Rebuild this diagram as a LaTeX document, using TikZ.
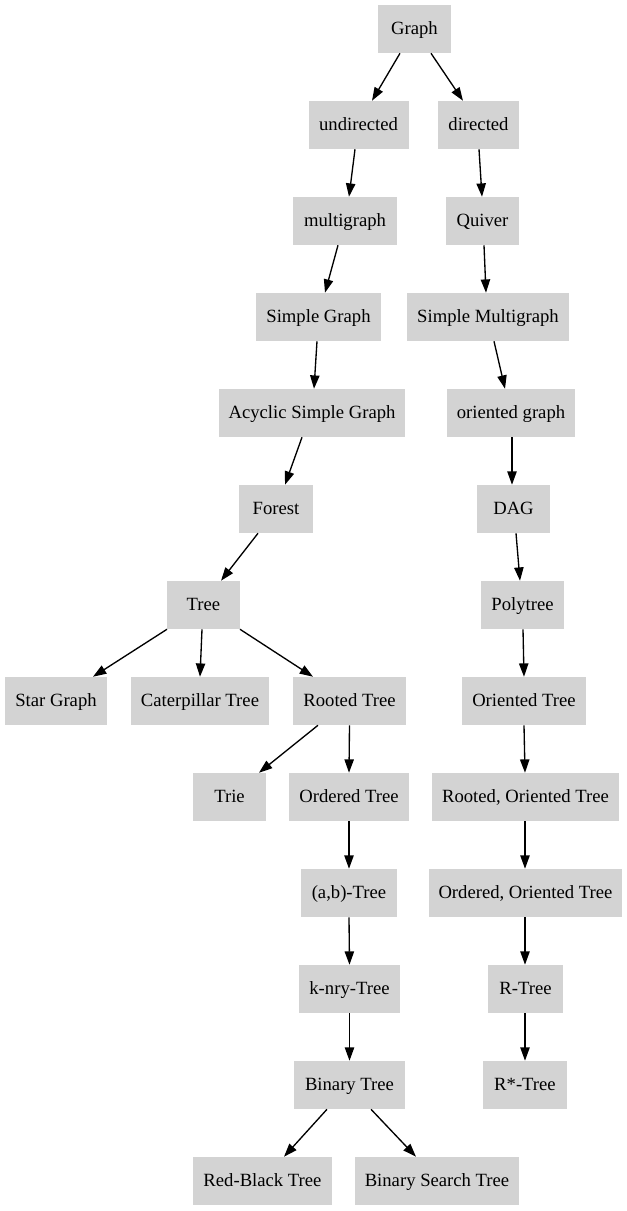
\documentclass[tikz,border=0pt]{standalone}
\usepackage{fontspec}
\setmainfont{Liberation Serif}
\usetikzlibrary{calc,arrows.meta}
\definecolor{boxgray}{HTML}{D3D3D3}
\begin{document}
\begin{tikzpicture}[x=0.75pt,y=-0.75pt,
  box/.style={fill=boxgray,draw=none,minimum height=36pt,inner sep=0pt,text height=11pt,text depth=2.5pt,font=\fontsize{14pt}{16pt}\selectfont},
  edge/.style={line width=1pt,-{Triangle[length=10pt,width=7pt]}}]
\useasboundingbox (0,0) rectangle (627,1211);
% row 0
\node[box,minimum width=54.75pt] (graph) at (414.5,29) {Graph};
% row 1
\node[box,minimum width=75pt] (undir) at (358.5,125) {undirected};
\node[box,minimum width=60.75pt] (dir) at (478.5,125) {directed};
% row 2
\node[box,minimum width=78pt] (multi) at (345,221) {multigraph};
\node[box,minimum width=54.75pt] (quiver) at (482.5,221) {Quiver};
% row 3
\node[box,minimum width=93.75pt] (sg) at (318.5,317) {Simple Graph};
\node[box,minimum width=121.5pt] (sm) at (488,317) {Simple Multigraph};
% row 4
\node[box,minimum width=139.5pt] (asg) at (312,413) {Acyclic Simple Graph};
\node[box,minimum width=96pt] (og) at (511,413) {oriented graph};
% row 5
\node[box,minimum width=55.5pt] (forest) at (276,509) {Forest};
\node[box,minimum width=54.75pt] (dag) at (513.5,509) {DAG};
% row 6
\node[box,minimum width=54.75pt] (tree) at (203.5,605) {Tree};
\node[box,minimum width=62.25pt] (poly) at (522.5,605) {Polytree};
% row 7
\node[box,minimum width=76.5pt] (star) at (56,701) {Star Graph};
\node[box,minimum width=103.5pt] (cat) at (200,701) {Caterpillar Tree};
\node[box,minimum width=84.75pt] (rooted) at (349.5,701) {Rooted Tree};
\node[box,minimum width=93pt] (ot) at (524,701) {Oriented Tree};
% row 8
\node[box,minimum width=54.75pt] (trie) at (229.5,797) {Trie};
\node[box,minimum width=90pt] (ordered) at (349,797) {Ordered Tree};
\node[box,minimum width=140.25pt] (rot) at (525.5,797) {Rooted, Oriented Tree};
% row 9
\node[box,minimum width=72pt] (ab) at (349,893) {(a,b)-Tree};
\node[box,minimum width=144.75pt] (oot) at (525.5,893) {Ordered, Oriented Tree};
% row 10
\node[box,minimum width=75.75pt] (knry) at (349.5,989) {k-nry-Tree};
\node[box,minimum width=56.25pt] (rtree) at (525.5,989) {R-Tree};
% row 11
\node[box,minimum width=83.25pt] (binary) at (349.5,1085) {Binary Tree};
\node[box,minimum width=63pt] (rstar) at (525,1085) {R*-Tree};
% row 12
\node[box,minimum width=104.25pt] (rb) at (262.5,1181) {Red-Black Tree};
\node[box,minimum width=123pt] (bst) at (437,1181) {Binary Search Tree};
% edges
\draw[edge] ($(graph.south)+(-14.5,0)$) -- ($(undir.north)+(13.5,0)$);
\draw[edge] ($(graph.south)+(16.5,0)$) -- ($(dir.north)+(-15.5,0)$);
\draw[edge] ($(undir.south)+(-3.5,0)$) -- ($(multi.north)+(4,0)$);
\draw[edge] ($(dir.south)+(0.5,0)$) -- ($(quiver.north)+(-0.5,0)$);
\draw[edge] ($(multi.south)+(-7,0)$) -- ($(sg.north)+(6.5,0)$);
\draw[edge] ($(quiver.south)+(1.5,0)$) -- ($(sm.north)+(-2,0)$);
\draw[edge] ($(sg.south)+(-1.5,0)$) -- ($(asg.north)+(2,0)$);
\draw[edge] ($(sm.south)+(6,0)$) -- ($(og.north)+(-6,0)$);
\draw[edge] ($(asg.south)+(-10,0)$) -- ($(forest.north)+(9,0)$);
\draw[edge] ($(og.south)+(1,0)$) -- ($(dag.north)+(-1.5,0)$);
\draw[edge] ($(forest.south)+(-18,0)$) -- ($(tree.north)+(17.5,0)$);
\draw[edge] ($(dag.south)+(2.5,0)$) -- ($(poly.north)+(-2.5,0)$);
\draw[edge] ($(tree.south)+(-36.5,0)$) -- ($(star.north)+(37,0)$);
\draw[edge] ($(tree.south)+(-1.5,0)$) -- (cat.north);
\draw[edge] ($(tree.south)+(36.5,0)$) -- ($(rooted.north)+(-36.5,0)$);
\draw[edge] ($(poly.south)+(0.5,0)$) -- (ot.north);
\draw[edge] ($(rooted.south)+(-31.5,0)$) -- ($(trie.north)+(29.5,0)$);
\draw[edge] (rooted.south) -- (ordered.north);
\draw[edge] (ot.south) -- ($(rot.north)+(-0.5,0)$);
\draw[edge] (ordered.south) -- (ab.north);
\draw[edge] ($(rot.south)+(-0.5,0)$) -- ($(oot.north)+(-0.5,0)$);
\draw[edge] (ab.south) -- (knry.north);
\draw[edge] ($(oot.south)+(-0.5,0)$) -- ($(rtree.north)+(-0.5,0)$);
\draw[edge] (knry.south) -- (binary.north);
\draw[edge] ($(rtree.south)+(-0.5,0)$) -- (rstar.north);
\draw[edge] ($(binary.south)+(-22.5,0)$) -- ($(rb.north)+(21.5,0)$);
\draw[edge] ($(binary.south)+(21.5,0)$) -- ($(bst.north)+(-21,0)$);
\end{tikzpicture}
\end{document}
